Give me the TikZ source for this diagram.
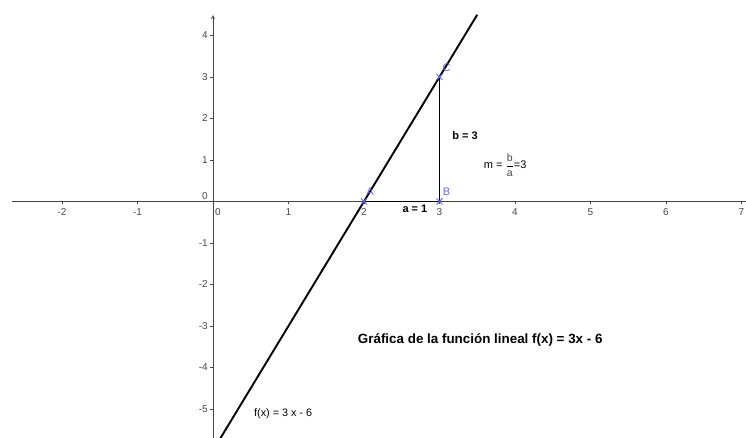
\documentclass[tikz,border=0pt]{standalone}
\usepackage{fontspec}
\setmainfont{Liberation Sans}
\definecolor{ptblue}{RGB}{102,102,255}
\definecolor{axgray}{RGB}{70,70,70}
\begin{document}
\begin{tikzpicture}[
    x=75.5pt, y=41.5pt,
    axis/.style={
        draw=axgray,
        line width=0.8pt
    },
    ticklabel/.style={
        font=\fontsize{10}{12}\selectfont,
        text=axgray,
        inner sep=1pt
    },
    cross/.style={
        draw=ptblue,
        line width=1pt
    },
    ptlabel/.style={
        font=\fontsize{11}{12}\selectfont,
        text=ptblue,
        inner sep=0pt
    },
    seg/.style={
        line width=1.6pt
    },
    note/.style={
        font=\bfseries\fontsize{11}{12}\selectfont,
        inner sep=1pt
    }
]
    \useasboundingbox (-2.821,-5.699) rectangle (7.06,4.855);
    % axes
    \coordinate (xl) at (-2.66,0);
    \coordinate (xr) at (7.06,0);
    \coordinate (yb) at (0,-5.699);
    \coordinate (yt) at (0,4.49);
    \draw[axis] (xl) -- (xr);
    \draw[axis, ->, >=stealth] (yb) -- (yt);
    \foreach \x in {-2,-1,1,2,...,7} {
        \draw[axis] (\x,0) -- ++(0,-2.5pt);
        \node[ticklabel] (tx\x) at ([yshift=-10.5pt]\x,0) {\x};
    }
    \foreach \y in {-5,-4,...,-1,1,2,3,4} {
        \draw[axis] (0,\y) -- ++(-2.5pt,0);
        \node[ticklabel, anchor=east] (ty\y) at ([xshift=-4pt]0,\y) {\y};
    }
    \node[ticklabel] (tx0) at ([xshift=5pt, yshift=-10.5pt]0,0) {0};
    \node[ticklabel, anchor=east] (ty0) at ([xshift=-4pt, yshift=5pt]0,0) {0};
    % line f
    \coordinate (fbot) at (0.1,-5.7);
    \coordinate (ftop) at (3.5,4.5);
    \draw[line width=1.9pt] (fbot) -- (ftop);
    % triangle
    \coordinate (A) at (2,0);
    \coordinate (B) at (3,0);
    \coordinate (C) at (3,3);
    \draw[seg] (A) -- (B) -- (C);
    \foreach \p in {A,B,C} {
        \draw[cross] ([shift={(-3pt,-3pt)}]\p) -- ([shift={(3pt,3pt)}]\p);
        \draw[cross] ([shift={(-3pt,3pt)}]\p) -- ([shift={(3pt,-3pt)}]\p);
    }
    \node[ptlabel] (lA) at ([shift={(6pt,10pt)}]A) {A};
    \node[ptlabel] (lB) at ([shift={(7pt,10pt)}]B) {B};
    \node[ptlabel] (lC) at ([shift={(7pt,9pt)}]C) {C};
    % labels
    \node[note] (la) at (2.675,-0.18) {a = 1};
    \node[note] (lb) at (3.34,1.578) {b = 3};
    \node[font=\fontsize{11}{12}\selectfont, inner sep=1pt] (lm) at (3.87,0.88)
        {m = $\displaystyle\frac{\mbox{\fontsize{10.5}{11}\selectfont\color{axgray}b}}{\mbox{\fontsize{10.5}{11}\selectfont\color{axgray}a}}$=3};
    \node[note, font=\bfseries\fontsize{13.4}{15}\selectfont] (title) at (3.54,-3.34)
        {Gráfica de la función lineal f(x) = 3x - 6};
    \node[font=\fontsize{10.8}{12}\selectfont, inner sep=1pt] (lf) at (0.93,-5.12) {f(x) = 3 x - 6};
\end{tikzpicture}
\end{document}
